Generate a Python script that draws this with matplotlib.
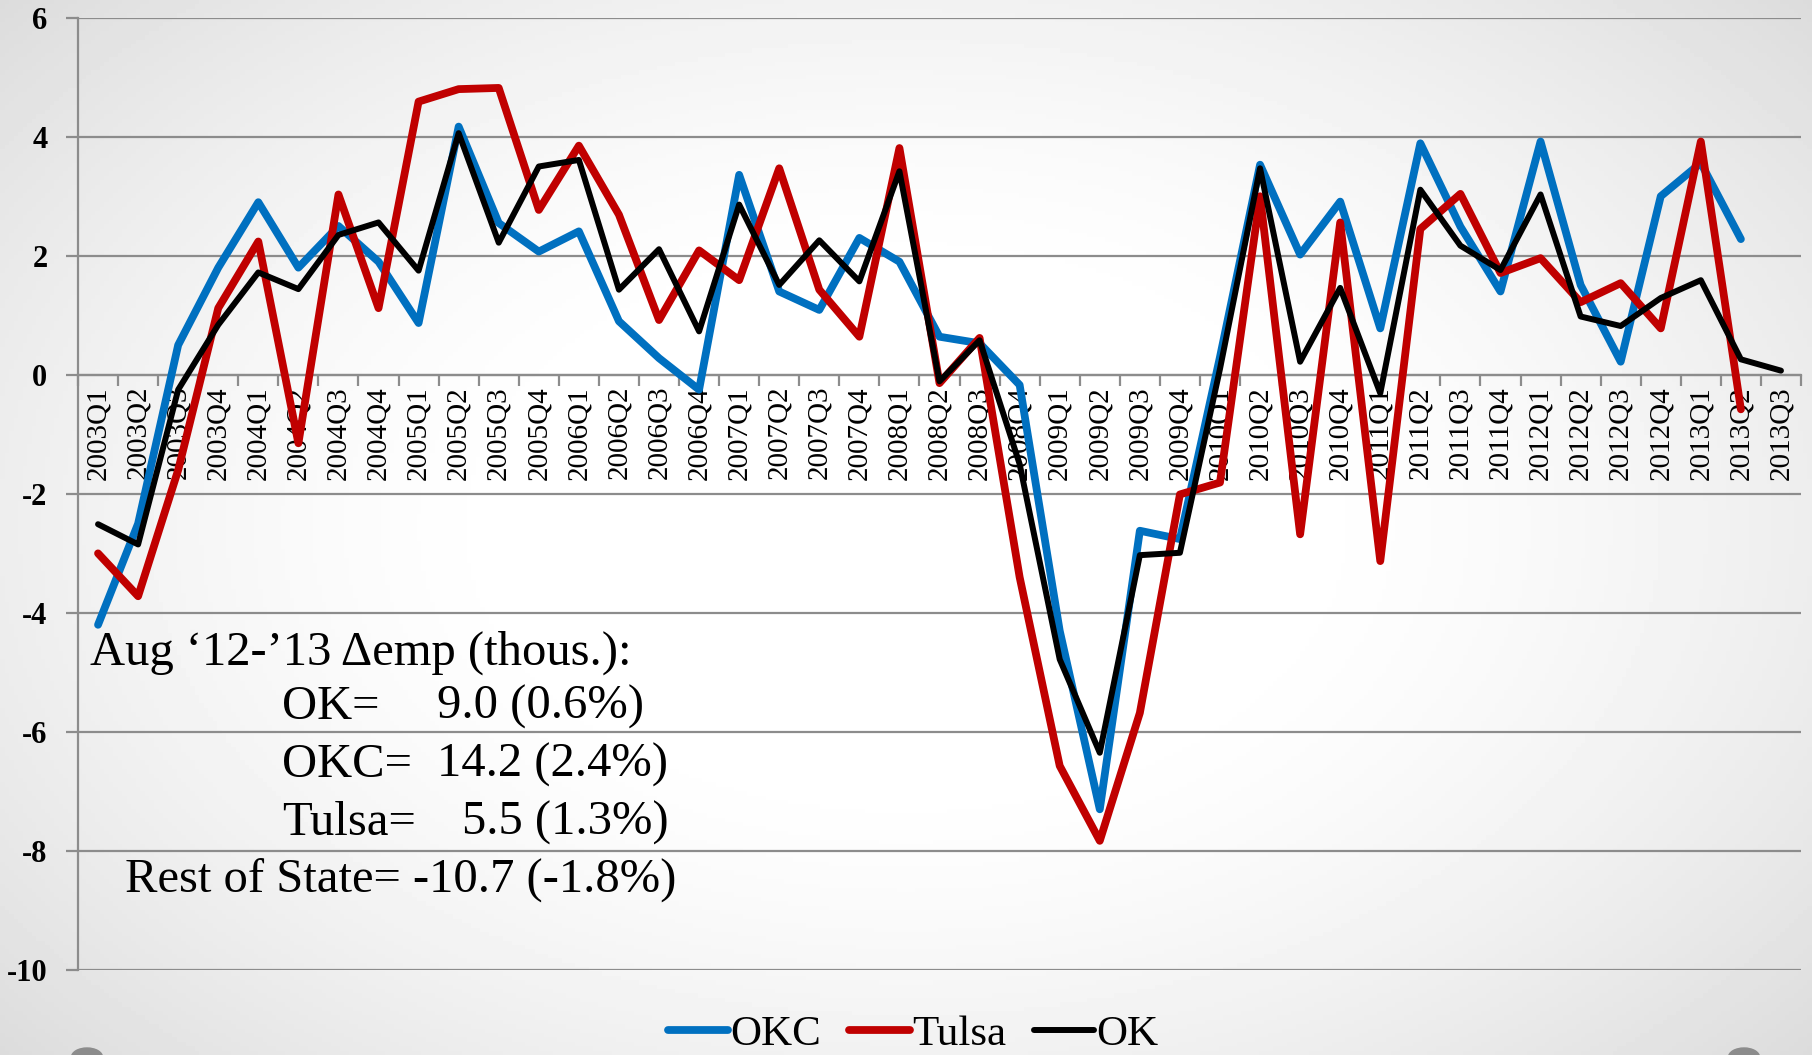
import numpy as np
import matplotlib.pyplot as plt
from matplotlib.patches import Circle

plt.rcParams["axes.unicode_minus"] = False
nan = np.nan

quarters = [f"{y}Q{q}" for y in range(2003, 2014) for q in range(1, 5)][:43]

okc = [-4.2, -2.5, 0.5, 1.8, 2.9, 1.8, 2.5, 1.9, 0.87, 4.17, 2.55, 2.07, 2.41,
       0.9, 0.28, -0.25, 3.36, 1.4, 1.09, 2.3, 1.9, 0.64, 0.53, -0.17, -4.3,
       -7.3, -2.62, -2.76, 0.3, 3.53, 2.02, 2.91, 0.78, 3.89, 2.49, 1.4, 3.92,
       1.51, 0.22, 3.0, 3.56, 2.28, nan]
tulsa = [-3.0, -3.72, -1.6, 1.12, 2.24, -1.15, 3.03, 1.12, 4.59, 4.8, 4.82, 2.77,
         3.85, 2.69, 0.92, 2.09, 1.59, 3.47, 1.43, 0.64, 3.81, -0.14, 0.62, -3.4,
         -6.57, -7.83, -5.68, -2.01, -1.81, 3.0, -2.68, 2.56, -3.13, 2.45, 3.04,
         1.71, 1.96, 1.22, 1.54, 0.78, 3.92, -0.58, nan]
ok = [-2.51, -2.85, -0.25, 0.84, 1.72, 1.44, 2.35, 2.56, 1.75, 4.06, 2.22, 3.5,
      3.61, 1.43, 2.11, 0.73, 2.86, 1.51, 2.26, 1.57, 3.42, -0.11, 0.58, -1.5,
      -4.78, -6.35, -3.03, -2.99, 0.1, 3.47, 0.22, 1.46, -0.31, 3.11, 2.17, 1.76,
      3.03, 0.98, 0.82, 1.29, 1.59, 0.26, 0.07]

series_names = ["OKC", "Tulsa", "OK"]
series_colors = ["#0070C0", "#C00000", "#000000"]
series_widths = [5.6, 5.6, 4.3]

note_title = "Aug \u201812-\u201913 \u0394emp (thous.):"
note_rows = [("OK=", "9.0 (0.6%)"), ("OKC=", "14.2 (2.4%)"), ("Tulsa=", "5.5 (1.3%)")]
note_rest = "Rest of State= -10.7 (-1.8%)"

W, H = 1812, 1055
fig = plt.figure(figsize=(W / 100, H / 100), dpi=100)

# slide background: soft grey vignette
bg = fig.add_axes([0, 0, 1, 1], zorder=-10)
gx, gy = np.meshgrid(np.linspace(-1, 1, 400), np.linspace(-1, 1, 240))
r = np.sqrt(gx**2 + (gy * 0.9)**2)
shade = 1 - 0.15 * np.clip(r - 0.4, 0, None) ** 1.5
bg.imshow(shade, cmap="gray", vmin=0, vmax=1, aspect="auto", extent=[0, 1, 0, 1])
bg.set_axis_off()
for cx in (87 / W, 1744 / W):
    bg.add_patch(Circle((cx, -2 / H), 9 / H, color="#8c8c8c", transform=bg.transAxes))
bg.set_xlim(0, 1)
bg.set_ylim(0, 1)

ax = fig.add_axes([78 / W, 1 - 970 / H, (1801 - 78) / W, (970 - 17.7) / H])
ax.patch.set_alpha(0)

x = np.arange(len(quarters)) + 0.5
for vals, name, col, lw in zip([okc, tulsa, ok], series_names, series_colors, series_widths):
    ax.plot(x, vals, color=col, lw=lw, label=name, zorder=3,
            solid_joinstyle="round", solid_capstyle="round")

ax.set_xlim(0, len(quarters))
ax.set_ylim(-10, 6)
ax.set_yticks(range(-10, 7, 2))
ax.yaxis.grid(True, color="#8c8c8c", lw=1.6)
ax.set_axisbelow(True)

ax.spines["bottom"].set_position(("data", 0))
for s in ["top", "right"]:
    ax.spines[s].set_visible(False)
for s in ["left", "bottom"]:
    ax.spines[s].set_color("#8c8c8c")
    ax.spines[s].set_linewidth(1.6)

ax.set_xticks(range(len(quarters) + 1))
ax.set_xticklabels([])
ax.tick_params(axis="x", which="major", direction="out", length=8, width=1.6, color="#8c8c8c")
ax.set_xticks(x, minor=True)
ax.set_xticklabels(quarters, minor=True, rotation=90, fontsize=21,
                   family="Liberation Serif", va="top")
ax.tick_params(axis="x", which="minor", length=0, pad=8)

ax.tick_params(axis="y", direction="out", length=9, width=1.6, color="#8c8c8c", pad=13)
for lab in ax.get_yticklabels():
    lab.set_family("Liberation Serif")
    lab.set_fontweight("bold")
    lab.set_fontsize(22)

txt = dict(family="Liberation Serif", fontsize=35, va="center", color="black")
fig.text(90 / W, 1 - 653 / H, note_title, **txt)
row_y = [707, 765, 823]
num_x = [437, 437, 462]
for (lbl, val), yy, nx in zip(note_rows, row_y, num_x):
    fig.text(282 / W, 1 - yy / H, lbl, **txt)
    fig.text(nx / W, 1 - yy / H, val, **txt)
fig.text(125 / W, 1 - 880 / H, note_rest, **txt)

fig.legend(loc="center", bbox_to_anchor=(0.504, 1 - 1034 / H), ncol=3, frameon=False,
           prop={"family": "Liberation Serif", "size": 31}, handlelength=1.4,
           handletextpad=0.05, columnspacing=0.65)

fig.savefig("out.png", dpi=100)
